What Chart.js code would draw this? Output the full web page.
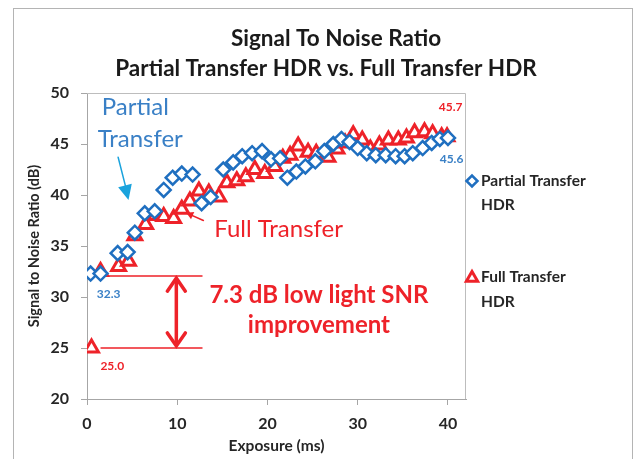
<!DOCTYPE html>
<html>
<head>
<meta charset="utf-8">
<script src="https://cdn.jsdelivr.net/npm/chart.js@4.4.0/dist/chart.umd.min.js"></script>
<style>
  html, body { margin: 0; padding: 0; background: #fff; }
  #wrap { width: 637px; height: 459px; }
</style>
</head>
<body>
<div id="wrap"><canvas id="snr" width="637" height="459"></canvas></div>
<script>
// values
const partialExposure = [0.4, 1.5, 3.4, 4.5, 5.3, 6.4, 7.5, 8.5, 9.5, 10.5, 11.7, 12.7, 13.7,
  15.1, 16.2, 17.2, 18.3, 19.4, 20.4, 21.4, 22.2, 23.2, 24.2, 25.3, 26.3, 27.3, 28.2,
  29.1, 30.0, 31.0, 32.0, 33.1, 34.2, 35.2, 36.1, 37.2, 38.2, 39.1, 40.0];
const partialSnr = [32.3, 32.3, 34.3, 34.4, 36.3, 38.2, 38.4, 40.5, 41.7, 42.1, 42.0, 39.2, 39.8,
  42.5, 43.2, 43.8, 44.1, 44.3, 43.5, 43.6, 41.7, 42.3, 42.8, 43.3, 44.3, 45.0, 45.5,
  45.2, 44.6, 44.1, 43.9, 43.9, 43.8, 43.8, 44.1, 44.6, 45.1, 45.5, 45.6];
const fullExposure = [0.5, 1.5, 3.5, 4.6, 5.3, 6.5, 7.6, 8.5, 9.6, 10.5, 11.4, 12.4, 13.5,
  14.6, 15.5, 16.6, 17.6, 18.6, 19.7, 20.8, 21.7, 22.5, 23.4, 24.5, 25.4, 26.7, 27.7,
  28.6, 29.5, 30.5, 31.4, 32.4, 33.4, 34.5, 35.4, 36.3, 37.4, 38.3, 39.3, 39.9];
const fullSnr = [25.0, 32.5, 33.0, 33.5, 36.0, 37.1, 38.0, 37.9, 37.7, 38.6, 39.4, 40.4, 40.2,
  39.8, 41.2, 41.4, 41.8, 42.5, 42.1, 42.8, 43.6, 43.9, 44.8, 44.2, 44.1, 43.7, 44.5,
  45.1, 45.9, 45.4, 44.5, 44.9, 45.4, 45.4, 45.6, 46.1, 46.2, 46.0, 45.7, 45.7];

const seriesNames = [['Partial Transfer', 'HDR'], ['Full Transfer', 'HDR']];
const titleLines = ['Signal To Noise Ratio', 'Partial Transfer HDR vs. Full Transfer HDR'];
const xTicks = [0, 10, 20, 30, 40];
const lowLight = {partial: 32.3, full: 25.0, gain: '7.3 dB low light SNR', gain2: 'improvement'};

const BLUE = '#1f6fc0';
const BLUE_TXT = '#3a80c6';
const RED = '#ee2229';
const CYAN = '#1aa3dd';
const INK = '#262626';
const FONT = 'Lato, "DejaVu Sans", sans-serif';

const toXY = (xs, ys) => xs.map((x, i) => ({x: x, y: ys[i]}));

function arrowHead(ctx, x1, y1, x2, y2, len, half, filled) {
  const ang = Math.atan2(y2 - y1, x2 - x1);
  const ax = x2 - len * Math.cos(ang);
  const ay = y2 - len * Math.sin(ang);
  const px = -Math.sin(ang) * half;
  const py = Math.cos(ang) * half;
  ctx.beginPath();
  ctx.moveTo(ax + px, ay + py);
  ctx.lineTo(x2, y2);
  ctx.lineTo(ax - px, ay - py);
  if (filled) {
    ctx.closePath();
    ctx.fill();
  } else {
    ctx.stroke();
  }
}

const decorations = {
  id: 'decorations',
  beforeDraw(chart) {
    const ctx = chart.ctx;
    ctx.save();
    ctx.fillStyle = '#fff';
    ctx.fillRect(0, 0, chart.width, chart.height);
    ctx.strokeStyle = '#b4b4b4';
    ctx.lineWidth = 1;
    ctx.strokeRect(13.5, 8.5, 619, 470);
    ctx.restore();
  },
  beforeDatasetsDraw(chart) {
    const {ctx, chartArea: a, scales: {x, y}} = chart;
    ctx.save();
    // plot frame top/right
    ctx.strokeStyle = '#bdbdbd';
    ctx.lineWidth = 1;
    ctx.beginPath();
    ctx.moveTo(a.left, a.top + 0.5);
    ctx.lineTo(a.right - 0.5, a.top + 0.5);
    ctx.lineTo(a.right - 0.5, a.bottom);
    ctx.stroke();

    // low light reference lines
    ctx.strokeStyle = RED;
    ctx.lineWidth = 1.5;
    ctx.beginPath();
    ctx.moveTo(x.getPixelForValue(0.5), y.getPixelForValue(32.05));
    ctx.lineTo(x.getPixelForValue(12.8), y.getPixelForValue(32.05));
    ctx.moveTo(x.getPixelForValue(1.5), y.getPixelForValue(lowLight.full));
    ctx.lineTo(x.getPixelForValue(12.8), y.getPixelForValue(lowLight.full));
    ctx.stroke();

    // double arrow
    const ax = x.getPixelForValue(9.9);
    const top = y.getPixelForValue(31.85);
    const bot = y.getPixelForValue(25.2);
    ctx.lineWidth = 3.5;
    ctx.lineCap = 'round';
    ctx.beginPath();
    ctx.moveTo(ax, top + 2);
    ctx.lineTo(ax, bot - 2);
    ctx.stroke();
    arrowHead(ctx, ax, bot, ax, top, 13, 9, false);
    arrowHead(ctx, ax, top, ax, bot, 13, 9, false);

    // partial transfer pointer
    ctx.strokeStyle = CYAN;
    ctx.fillStyle = CYAN;
    ctx.lineWidth = 1.5;
    const p1 = [x.getPixelForValue(3.45), y.getPixelForValue(43.7)];
    const p2 = [x.getPixelForValue(4.6), y.getPixelForValue(39.5)];
    ctx.beginPath();
    ctx.moveTo(p1[0], p1[1]);
    ctx.lineTo(p2[0] - 2, p2[1] - 10);
    ctx.stroke();
    arrowHead(ctx, p1[0], p1[1], p2[0], p2[1], 15, 7, true);

    // full transfer pointer
    ctx.strokeStyle = RED;
    ctx.fillStyle = RED;
    const f1 = [x.getPixelForValue(12.9), y.getPixelForValue(37.5)];
    const f2 = [x.getPixelForValue(11.0), y.getPixelForValue(38.25)];
    ctx.beginPath();
    ctx.moveTo(f1[0], f1[1]);
    ctx.lineTo(f2[0], f2[1]);
    ctx.stroke();
    arrowHead(ctx, f1[0], f1[1], f2[0], f2[1], 7, 4, true);
    ctx.restore();
  },
  afterDraw(chart) {
    const {ctx, scales: {x, y}} = chart;
    ctx.save();
    ctx.textAlign = 'center';
    ctx.textBaseline = 'middle';

    // title
    ctx.fillStyle = '#1a1a1a';
    ctx.font = 'bold 22.5px ' + FONT;
    ctx.fillText(titleLines[0], 336, 39);
    ctx.fillText(titleLines[1], 326, 69);

    // callouts
    ctx.font = '24px ' + FONT;
    ctx.fillStyle = BLUE_TXT;
    ctx.fillText('Partial', x.getPixelForValue(5.35), y.getPixelForValue(48.6));
    ctx.fillText('Transfer', x.getPixelForValue(5.9), y.getPixelForValue(45.5));
    ctx.fillStyle = RED;
    ctx.textAlign = 'left';
    ctx.fillText('Full Transfer', x.getPixelForValue(14.1), y.getPixelForValue(36.6));
    ctx.textAlign = 'center';
    ctx.font = 'bold 24px ' + FONT;
    ctx.fillText(lowLight.gain, x.getPixelForValue(25.7), y.getPixelForValue(30.2));
    ctx.fillText(lowLight.gain2, x.getPixelForValue(25.7), y.getPixelForValue(27.2));

    // value labels
    ctx.font = 'bold 12px ' + FONT;
    ctx.fillStyle = BLUE_TXT;
    ctx.fillText(partialSnr[0].toFixed(1), x.getPixelForValue(2.4), y.getPixelForValue(30.3));
    ctx.fillText(partialSnr[partialSnr.length - 1].toFixed(1), x.getPixelForValue(40.4), y.getPixelForValue(43.5));
    ctx.fillStyle = RED;
    ctx.fillText(fullSnr[0].toFixed(1), x.getPixelForValue(2.8), y.getPixelForValue(23.2));
    ctx.fillText(fullSnr[fullSnr.length - 1].toFixed(1), x.getPixelForValue(40.3), y.getPixelForValue(48.6));

    // legend
    const H = Chart.helpers;
    const items = [[181, 205], [277, 302]];
    chart.data.datasets.forEach((ds, i) => {
      const [y1, y2] = items[i];
      ctx.fillStyle = '#fff';
      ctx.strokeStyle = ds.borderColor;
      ctx.lineWidth = ds.borderWidth;
      H.drawPoint(ctx, {pointStyle: ds.pointStyle, radius: i === 0 ? 5.5 : 6.5,
        rotation: 0, borderWidth: ds.borderWidth}, 472, y1 + (i === 0 ? 0 : 1));
      ctx.fillStyle = INK;
      ctx.font = 'bold 15.5px ' + FONT;
      ctx.textAlign = 'left';
      ctx.fillText(seriesNames[i][0], 481, y1);
      ctx.fillText(seriesNames[i][1], 481, y2);
    });
    ctx.restore();
  },
};

new Chart(document.getElementById('snr'), {
  type: 'scatter',
  data: {
    datasets: [{
      label: seriesNames[0].join(' '),
      data: toXY(partialExposure, partialSnr),
      pointStyle: 'rectRot',
      pointRadius: 7,
      borderColor: BLUE,
      backgroundColor: '#fff',
      borderWidth: 2.5,
    }, {
      label: seriesNames[1].join(' '),
      data: toXY(fullExposure, fullSnr),
      pointStyle: 'triangle',
      pointRadius: 8,
      borderColor: RED,
      backgroundColor: '#fff',
      borderWidth: 3,
    }],
  },
  options: {
    responsive: false,
    animation: false,
    devicePixelRatio: 1,
    layout: {padding: {left: 0, top: 93, right: 171, bottom: 0}},
    plugins: {
      legend: {display: false},
      tooltip: {enabled: false},
    },
    scales: {
      x: {
        type: 'linear',
        min: 0,
        max: 42,
        afterFit: (axis) => {
          axis.height = 60;
        },
        afterBuildTicks: (axis) => {
          axis.ticks = xTicks.map((v) => ({value: v}));
        },
        border: {color: '#a6a6a6', width: 1},
        grid: {drawOnChartArea: false, color: '#a6a6a6', tickLength: 6},
        ticks: {color: INK, font: {family: FONT, size: 16, weight: 'bold'}, padding: 9},
        title: {
          display: true,
          text: 'Exposure (ms)',
          color: INK,
          font: {family: FONT, size: 15.5, weight: 'bold'},
          padding: {top: 0, bottom: 4},
        },
      },
      y: {
        min: 20,
        max: 50,
        afterFit: (axis) => {
          axis.width = 87;
        },
        border: {color: '#a6a6a6', width: 1},
        grid: {drawOnChartArea: false, color: '#a6a6a6', tickLength: 6},
        ticks: {stepSize: 5, color: INK, font: {family: FONT, size: 16, weight: 'bold'}, padding: 12},
        title: {
          display: true,
          text: 'Signal to Noise Ratio (dB)',
          color: INK,
          font: {family: FONT, size: 14.5, weight: 'bold'},
          padding: {top: 26, bottom: 0},
        },
      },
    },
  },
  plugins: [decorations],
});
</script>
</body>
</html>
